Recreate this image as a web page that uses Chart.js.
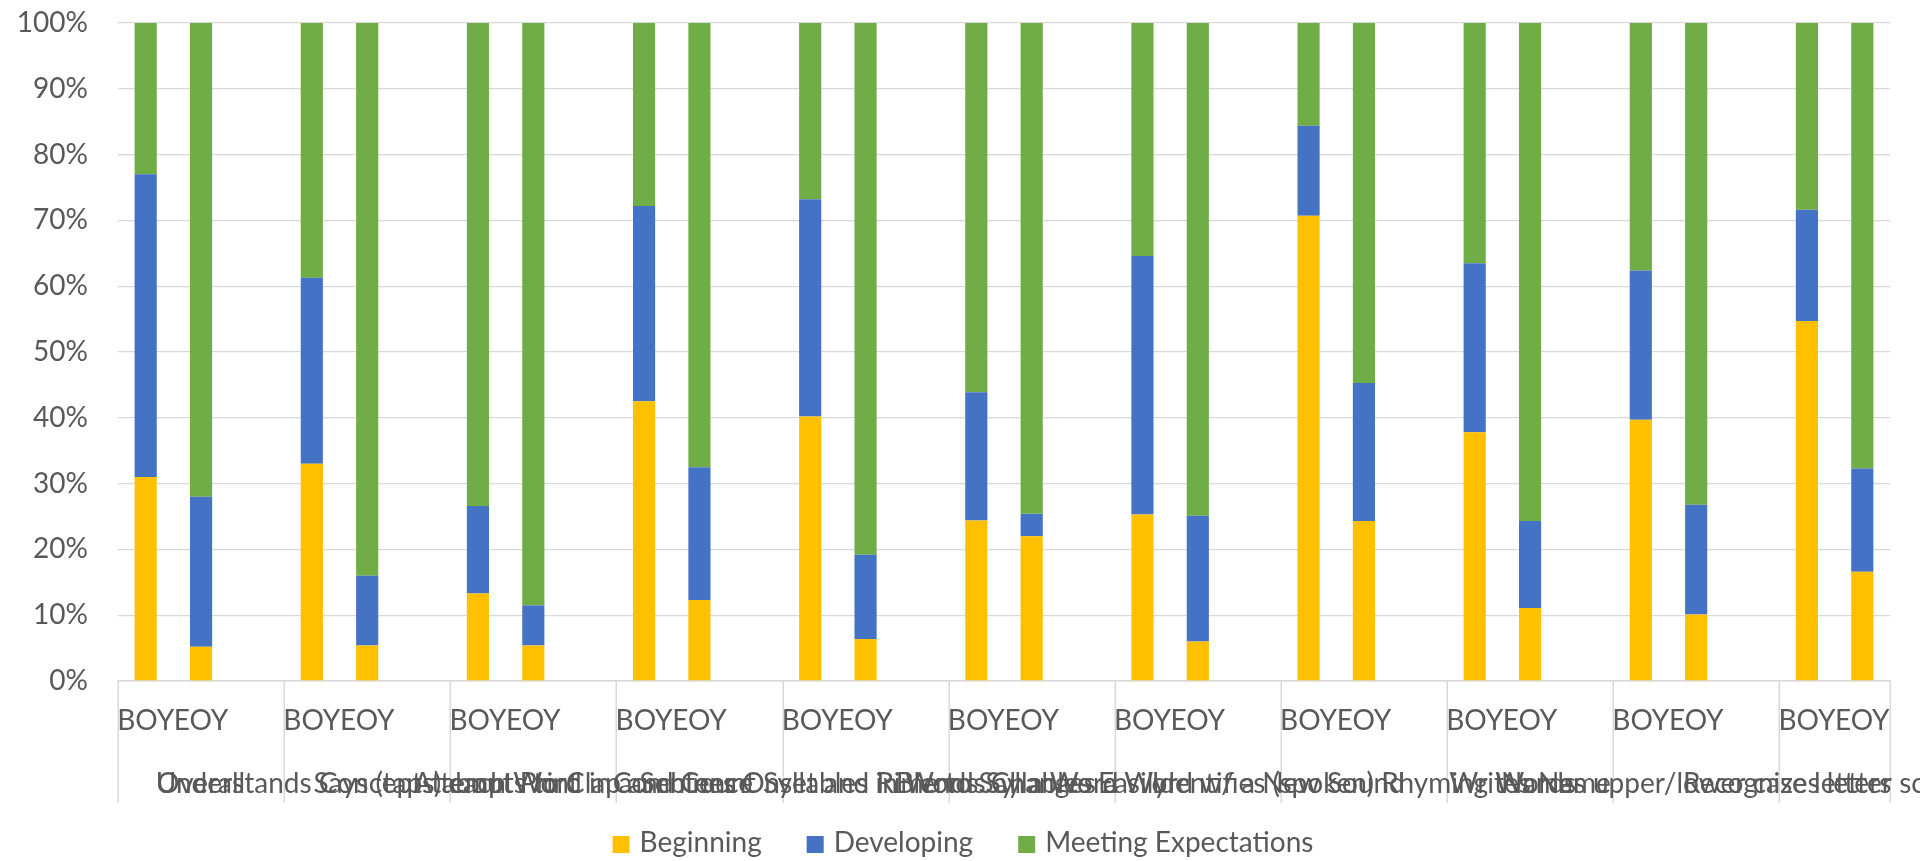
<!DOCTYPE html>
<html>
<head>
<meta charset="utf-8">
<title>Skill levels, BOY vs EOY</title>
<script src="https://cdn.jsdelivr.net/npm/chart.js@4.4.0/dist/chart.umd.min.js"></script>
<style>
  html, body { margin: 0; padding: 0; background: #ffffff; }
  #wrap { width: 1920px; height: 861px; }
</style>
</head>
<body>
<div id="wrap"><canvas id="chart" width="1920" height="861"></canvas></div>
<script>
// ---- data -------------------------------------------------------------
const skills = [
  'Overall',
  'Understands Concepts about Print',
  'Says (taps) each Word in a Sentence',
  'Attempts to Clap and Count Syllables in Words',
  'Combines Onset and Rime to Say a Word',
  'Blends Syllables Easily',
  'Changes a Word w/ a New Sound',
  'Identifies (spoken) Rhyming Words',
  'Writes Name',
  'Names upper/lower case letters',
  'Recognizes letter sounds'
];
const periods = ['BOY', 'EOY'];
const yTicks = [0, 10, 20, 30, 40, 50, 60, 70, 80, 90, 100];

// percent of students at each level
const beginningBOY  = [31.0, 33.0, 13.3, 42.5, 40.2, 24.4, 25.3, 70.7, 37.8, 39.7, 54.7];
const beginningEOY  = [ 5.2,  5.4,  5.4, 12.3,  6.4, 22.0,  6.0, 24.3, 11.1, 10.1, 16.6];
const developingBOY = [46.0, 28.3, 13.3, 29.7, 33.0, 19.5, 39.3, 13.7, 25.7, 22.7, 16.9];
const developingEOY = [22.8, 10.6,  6.1, 20.2, 12.8,  3.4, 19.1, 21.0, 13.2, 16.7, 15.7];
const meetingBOY    = [23.0, 38.7, 73.4, 27.8, 26.8, 56.1, 35.4, 15.6, 36.5, 37.6, 28.4];
const meetingEOY    = [72.0, 84.0, 88.5, 67.5, 80.8, 74.6, 74.9, 54.7, 75.7, 73.2, 67.7];

// ---- styling ----------------------------------------------------------
const FONT = "Lato, 'Open Sans', sans-serif";
const TEXT_COLOR = '#595959';
const GRID_COLOR = '#d9d9d9';
const COLORS = { beginning: '#FFC000', developing: '#4472C4', meeting: '#70AD47' };

// Each skill owns a BOY slot, an EOY slot and a spacer slot (none after the last skill).
const slotLabels = [];
const slotSkill = [];
skills.forEach((s, i) => {
  periods.forEach(p => { slotLabels.push(p); slotSkill.push(i); });
  if (i < skills.length - 1) { slotLabels.push(''); slotSkill.push(i); }
});

function spread(boy, eoy) {
  const out = [];
  skills.forEach((s, i) => {
    out.push(boy[i], eoy[i]);
    if (i < skills.length - 1) out.push(null);
  });
  return out;
}

// Second-level category axis: skill names centred under their group plus divider lines.
const skillAxis = {
  id: 'skillAxis',
  afterDraw(chart) {
    const x = chart.scales.x;
    const ctx = chart.ctx;
    const bottom = chart.chartArea.bottom;
    const slot = x.getPixelForValue(1) - x.getPixelForValue(0);
    ctx.save();
    ctx.strokeStyle = GRID_COLOR;
    ctx.lineWidth = 1.5;
    const edges = new Set();
    skills.forEach((s, i) => {
      const first = slotSkill.indexOf(i);
      const last = slotSkill.lastIndexOf(i);
      edges.add(Math.round(x.getPixelForValue(first) - slot / 2));
      edges.add(Math.round(x.getPixelForValue(last) + slot / 2));
    });
    edges.forEach(px => {
      ctx.beginPath();
      ctx.moveTo(px + 0.25, bottom);
      ctx.lineTo(px + 0.25, bottom + 122);
      ctx.stroke();
    });
    ctx.fillStyle = TEXT_COLOR;
    ctx.font = '28px ' + FONT;
    ctx.textAlign = 'center';
    ctx.textBaseline = 'alphabetic';
    skills.forEach((s, i) => {
      const first = slotSkill.indexOf(i);
      const last = slotSkill.lastIndexOf(i);
      const cx = (x.getPixelForValue(first) + x.getPixelForValue(last)) / 2;
      ctx.fillText(s, cx, bottom + 112);
    });
    ctx.restore();
  }
};

// Legend row along the bottom edge.
const bottomLegend = {
  id: 'bottomLegend',
  afterDraw(chart) {
    const ctx = chart.ctx;
    const box = 17, gapText = 10, gapItem = 45;
    ctx.save();
    ctx.font = '28px ' + FONT;
    const items = chart.data.datasets.map(d => ({ label: d.label, color: d.backgroundColor, w: ctx.measureText(d.label).width }));
    const total = items.reduce((a, it) => a + box + gapText + it.w, 0) + gapItem * (items.length - 1);
    let px = chart.width / 2 - total / 2 + 3;
    const baseline = 852;
    items.forEach(it => {
      ctx.fillStyle = it.color;
      ctx.fillRect(px, baseline - 16, box, box);
      px += box + gapText;
      ctx.fillStyle = TEXT_COLOR;
      ctx.textAlign = 'left';
      ctx.textBaseline = 'alphabetic';
      ctx.fillText(it.label, px, baseline);
      px += it.w + gapItem;
    });
    ctx.restore();
  }
};

const barStyle = { barPercentage: 0.4, categoryPercentage: 1.0, borderWidth: 0 };

new Chart(document.getElementById('chart'), {
  type: 'bar',
  data: {
    labels: slotLabels,
    datasets: [
      Object.assign({ label: 'Beginning', data: spread(beginningBOY, beginningEOY), backgroundColor: COLORS.beginning }, barStyle),
      Object.assign({ label: 'Developing', data: spread(developingBOY, developingEOY), backgroundColor: COLORS.developing }, barStyle),
      Object.assign({ label: 'Meeting Expectations', data: spread(meetingBOY, meetingEOY), backgroundColor: COLORS.meeting }, barStyle)
    ]
  },
  options: {
    responsive: false,
    animation: false,
    devicePixelRatio: 1,
    layout: { autoPadding: false, padding: { left: 0, right: 30, top: 23, bottom: 0 } },
    plugins: { legend: { display: false }, tooltip: { enabled: false } },
    scales: {
      x: {
        stacked: true,
        grid: { display: false },
        border: { display: true, color: GRID_COLOR, width: 1.5 },
        ticks: {
          color: TEXT_COLOR, font: { family: FONT, size: 28 },
          autoSkip: false, maxRotation: 0, minRotation: 0, padding: 15
        },
        afterFit(scale) { scale.height = 180; }
      },
      y: {
        stacked: true,
        min: 0, max: 100,
        afterBuildTicks(scale) { scale.ticks = yTicks.map(v => ({ value: v })); },
        grid: { color: GRID_COLOR, lineWidth: 1.3, drawTicks: false },
        border: { display: false },
        ticks: {
          color: TEXT_COLOR, font: { family: FONT, size: 28 }, padding: 30,
          callback: v => v + '%'
        },
        afterFit(scale) { scale.width = 118; scale.paddingTop = 0; scale.paddingBottom = 0; }
      }
    }
  },
  plugins: [skillAxis, bottomLegend]
});
</script>
</body>
</html>
